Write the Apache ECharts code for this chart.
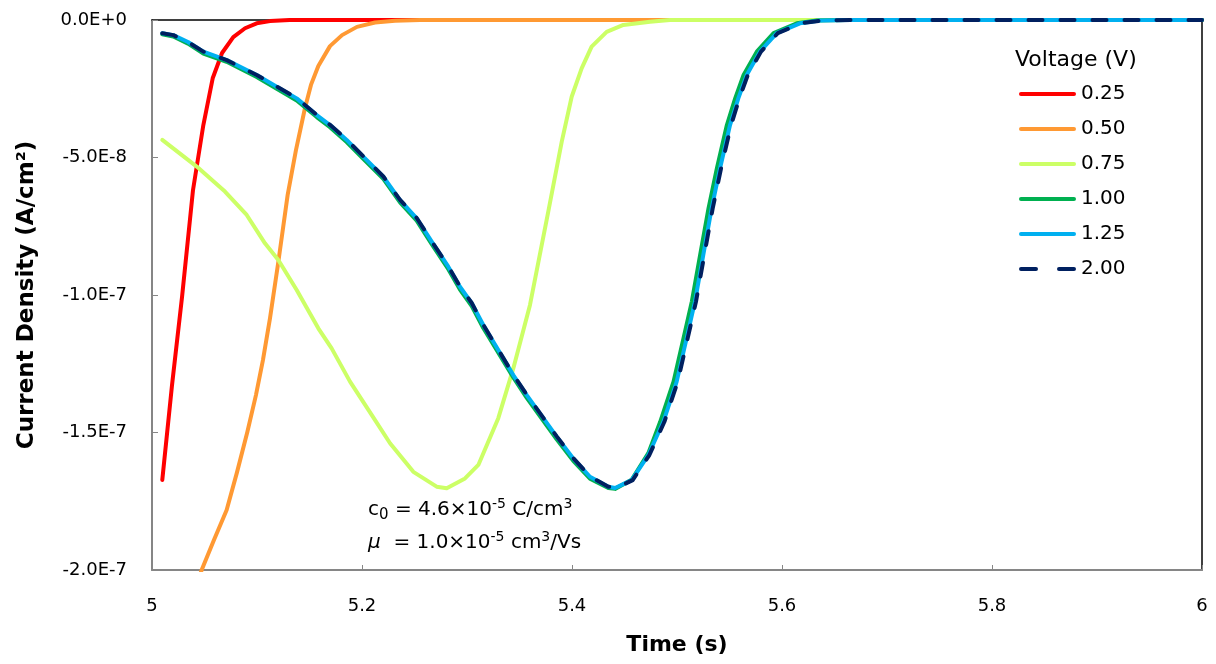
<!DOCTYPE html>
<html>
<head>
<meta charset="utf-8">
<script src="https://cdn.jsdelivr.net/npm/echarts@6/dist/echarts.min.js"></script>
<style>
html,body{margin:0;padding:0;background:#fff;}
#chart{width:1216px;height:664px;}
</style>
</head>
<body>
<div id="chart"></div>
<script>
// Time (s), current density (A/cm^2)
const seriesNames = ['0.25', '0.50', '0.75', '1.00', '1.25', '2.00'];
const seriesColors = ['#FF0000', '#FF9933', '#CCFF66', '#00B050', '#00B0F0', '#002060'];

const v025 = [[5.0098,-16.73e-8],[5.019,-13.3e-8],[5.0286,-10.07e-8],[5.039,-6.2e-8],[5.0489,-3.82e-8],[5.0578,-2.12e-8],[5.0667,-1.2e-8],[5.0774,-0.62e-8],[5.0886,-0.3e-8],[5.0997,-0.12e-8],[5.1124,-0.04e-8],[5.131,0],[5.2,0],[5.3,0],[5.4,0],[5.5,0],[5.6,0],[5.7,0],[5.8,0],[5.9,0],[6.0,0]];

const v050 = [[5.04,-20.8e-8],[5.0473,-20.0e-8],[5.059,-18.91e-8],[5.0711,-17.82e-8],[5.081,-16.44e-8],[5.0908,-14.98e-8],[5.099,-13.64e-8],[5.1057,-12.36e-8],[5.1124,-10.84e-8],[5.1203,-8.8e-8],[5.1292,-6.36e-8],[5.1371,-4.73e-8],[5.1457,-3.2e-8],[5.1514,-2.36e-8],[5.1584,-1.67e-8],[5.1695,-0.95e-8],[5.181,-0.55e-8],[5.1952,-0.25e-8],[5.2124,-0.09e-8],[5.2314,-0.03e-8],[5.2552,0],[5.3,0],[5.4,0],[5.5,0],[5.6,0],[5.7,0],[5.8,0],[5.9,0],[6.0,0]];

const v075 = [[5.0098,-4.36e-8],[5.0426,-5.33e-8],[5.0695,-6.24e-8],[5.0902,-7.09e-8],[5.1076,-8.12e-8],[5.1203,-8.73e-8],[5.1378,-9.82e-8],[5.1584,-11.21e-8],[5.1711,-11.94e-8],[5.1886,-13.15e-8],[5.2092,-14.36e-8],[5.2267,-15.39e-8],[5.2489,-16.43e-8],[5.2711,-16.97e-8],[5.2807,-17.03e-8],[5.2981,-16.67e-8],[5.3108,-16.18e-8],[5.3298,-14.48e-8],[5.3441,-12.67e-8],[5.36,-10.36e-8],[5.3774,-6.97e-8],[5.3902,-4.43e-8],[5.3997,-2.79e-8],[5.4092,-1.76e-8],[5.4187,-0.97e-8],[5.433,-0.43e-8],[5.4489,-0.18e-8],[5.4743,-0.06e-8],[5.4933,0],[5.6,0],[5.7,0],[5.8,0],[5.9,0],[6.0,0]];

const v100 = [[5.0098,-0.52e-8],[5.0203,-0.6e-8],[5.0343,-0.86e-8],[5.0489,-1.22e-8],[5.0711,-1.52e-8],[5.0997,-2.07e-8],[5.1188,-2.5e-8],[5.1378,-2.93e-8],[5.1569,-3.53e-8],[5.1695,-3.9e-8],[5.1854,-4.44e-8],[5.2012,-5.05e-8],[5.2203,-5.78e-8],[5.2362,-6.63e-8],[5.2521,-7.3e-8],[5.2664,-8.15e-8],[5.2822,-9.06e-8],[5.2933,-9.8e-8],[5.3045,-10.4e-8],[5.3155,-11.2e-8],[5.3298,-12.1e-8],[5.3441,-13.0e-8],[5.3569,-13.74e-8],[5.3727,-14.58e-8],[5.3854,-15.25e-8],[5.4012,-16.03e-8],[5.4171,-16.68e-8],[5.4346,-17.02e-8],[5.441,-17.05e-8],[5.4568,-16.72e-8],[5.4727,-15.75e-8],[5.484,-14.61e-8],[5.4967,-13.15e-8],[5.5062,-11.57e-8],[5.5141,-10.24e-8],[5.522,-8.55e-8],[5.53,-6.85e-8],[5.538,-5.39e-8],[5.5475,-3.82e-8],[5.5554,-2.85e-8],[5.5634,-2.0e-8],[5.576,-1.15e-8],[5.592,-0.48e-8],[5.6141,-0.12e-8],[5.6332,-0.02e-8],[5.66,0],[5.7,0],[5.8,0],[5.9,0],[6.0,0]];

const v125 = [[5.0098,-0.48e-8],[5.0203,-0.55e-8],[5.0343,-0.8e-8],[5.0489,-1.15e-8],[5.0711,-1.46e-8],[5.0997,-2.0e-8],[5.1188,-2.43e-8],[5.1378,-2.85e-8],[5.1569,-3.46e-8],[5.1695,-3.82e-8],[5.1854,-4.36e-8],[5.2012,-4.97e-8],[5.2203,-5.7e-8],[5.2362,-6.55e-8],[5.2521,-7.21e-8],[5.2664,-8.06e-8],[5.2822,-8.97e-8],[5.2933,-9.7e-8],[5.3045,-10.3e-8],[5.3155,-11.09e-8],[5.3298,-12.0e-8],[5.3441,-12.91e-8],[5.3569,-13.64e-8],[5.3727,-14.48e-8],[5.3854,-15.15e-8],[5.4012,-15.94e-8],[5.4171,-16.61e-8],[5.4346,-16.97e-8],[5.441,-17.02e-8],[5.4568,-16.73e-8],[5.4727,-15.82e-8],[5.487,-14.61e-8],[5.4997,-13.15e-8],[5.5092,-11.57e-8],[5.5171,-10.24e-8],[5.525,-8.55e-8],[5.533,-6.85e-8],[5.541,-5.39e-8],[5.5505,-3.82e-8],[5.5584,-2.85e-8],[5.5664,-2.0e-8],[5.579,-1.15e-8],[5.595,-0.48e-8],[5.6171,-0.12e-8],[5.6362,-0.02e-8],[5.665,0],[5.7,0],[5.8,0],[5.9,0],[6.0,0]];

const v200 = [[5.0098,-0.48e-8],[5.0203,-0.55e-8],[5.0343,-0.8e-8],[5.0489,-1.15e-8],[5.0711,-1.46e-8],[5.0997,-2.0e-8],[5.1188,-2.42e-8],[5.1378,-2.84e-8],[5.1569,-3.45e-8],[5.1695,-3.81e-8],[5.1854,-4.35e-8],[5.2012,-4.96e-8],[5.2203,-5.69e-8],[5.2362,-6.54e-8],[5.2521,-7.2e-8],[5.2664,-8.05e-8],[5.2822,-8.96e-8],[5.2933,-9.69e-8],[5.3045,-10.29e-8],[5.3155,-11.08e-8],[5.3298,-11.99e-8],[5.3441,-12.9e-8],[5.3569,-13.63e-8],[5.3727,-14.47e-8],[5.3854,-15.14e-8],[5.4012,-15.93e-8],[5.4171,-16.6e-8],[5.4346,-16.97e-8],[5.442,-17.02e-8],[5.4578,-16.73e-8],[5.4737,-15.82e-8],[5.488,-14.61e-8],[5.5007,-13.15e-8],[5.5102,-11.57e-8],[5.5181,-10.24e-8],[5.526,-8.55e-8],[5.534,-6.85e-8],[5.542,-5.39e-8],[5.5515,-3.82e-8],[5.5594,-2.85e-8],[5.5674,-2.0e-8],[5.58,-1.15e-8],[5.596,-0.48e-8],[5.6181,-0.12e-8],[5.6372,-0.02e-8],[5.666,0],[5.7,0],[5.8,0],[5.9,0],[6.0,0]];

const xTicks = [5, 5.2, 5.4, 5.6, 5.8, 6];
const yTicks = [-2.0e-7, -1.5e-7, -1.0e-7, -5.0e-8, 0];
const yTickLabels = ['-2.0E-7', '-1.5E-7', '-1.0E-7', '-5.0E-8', '0.0E+0'];

const allData = [v025, v050, v075, v100, v125, v200];
const FONT = 'DejaVu Sans';

function yFmt(v) {
  let best = 0, bd = Infinity;
  yTicks.forEach((t, i) => { const d = Math.abs(t - v); if (d < bd) { bd = d; best = i; } });
  return yTickLabels[best];
}

const solidIcon = 'path://M2,0H55A2,2,0,0,1,55,4H2A2,2,0,0,1,2,0Z';
const dashIcon = 'path://M2,0H17A2,2,0,0,1,17,4H2A2,2,0,0,1,2,0Z M40,0H55A2,2,0,0,1,55,4H40A2,2,0,0,1,40,0Z';

const series = allData.map((d, i) => ({
  name: seriesNames[i],
  type: 'line',
  data: d,
  symbol: 'none',
  showSymbol: false,
  smooth: false,
  xAxisIndex: 0,
  yAxisIndex: 0,
  lineStyle: {
    color: seriesColors[i],
    width: 4,
    type: i === 5 ? [14, 18] : 'solid',
    cap: 'round',
    join: 'round'
  },
  itemStyle: { color: seriesColors[i] },
  z: 2 + i
}));

const chart = echarts.init(document.getElementById('chart'), null, { renderer: 'canvas' });
chart.setOption({
  animation: false,
  backgroundColor: '#ffffff',
  textStyle: { fontFamily: FONT },
  grid: { left: 152, right: 14, top: 20, bottom: 94, containLabel: false },
  legend: {
    data: seriesNames.map((n, i) => ({ name: n, icon: i === 5 ? dashIcon : solidIcon })),
    orient: 'vertical',
    left: 1014,
    top: 79,
    padding: 5,
    itemWidth: 57,
    itemHeight: 4,
    itemGap: 15,
    symbolKeepAspect: false,
    textStyle: { fontFamily: FONT, fontSize: 20, color: '#000' }
  },
  xAxis: [{
    type: 'value',
    min: xTicks[0],
    max: xTicks[xTicks.length - 1],
    interval: 0.2,
    position: 'bottom',
    name: 'Time (s)',
    nameLocation: 'middle',
    nameGap: 64,
    nameTextStyle: { fontFamily: FONT, fontSize: 22, fontWeight: 'bold', color: '#000' },
    axisLine: { show: true, onZero: false, lineStyle: { color: '#868686', width: 2 } },
    axisTick: { show: true, inside: true, length: 5, lineStyle: { color: '#868686', width: 1 } },
    axisLabel: { margin: 27, fontFamily: FONT, fontSize: 18, color: '#000' },
    splitLine: { show: false }
  }, {
    type: 'value',
    min: xTicks[0],
    max: xTicks[xTicks.length - 1],
    position: 'top',
    axisLine: { show: true, onZero: false, lineStyle: { color: '#000', width: 1.5 } },
    axisTick: { show: false },
    axisLabel: { show: false },
    splitLine: { show: false }
  }],
  yAxis: [{
    type: 'value',
    min: yTicks[0],
    max: yTicks[yTicks.length - 1],
    interval: 5e-8,
    position: 'left',
    name: 'Current Density (A/cm²)',
    nameLocation: 'middle',
    nameGap: 113,
    nameRotate: 90,
    nameTextStyle: { fontFamily: FONT, fontSize: 23, fontWeight: 'bold', color: '#000' },
    axisLine: { show: true, onZero: false, lineStyle: { color: '#868686', width: 2 } },
    axisTick: { show: true, inside: true, length: 6, lineStyle: { color: '#868686', width: 1 } },
    axisLabel: { margin: 25, fontFamily: FONT, fontSize: 18, color: '#000', formatter: yFmt },
    splitLine: { show: false }
  }, {
    type: 'value',
    min: yTicks[0],
    max: yTicks[yTicks.length - 1],
    position: 'right',
    axisLine: { show: true, onZero: false, lineStyle: { color: '#000', width: 1.5 } },
    axisTick: { show: false },
    axisLabel: { show: false },
    splitLine: { show: false }
  }],
  graphic: [{
    type: 'text',
    left: 1015,
    top: 49,
    style: { text: 'Voltage (V)', fontFamily: FONT, fontSize: 22, fill: '#000' }
  }, {
    type: 'text',
    left: 368,
    top: 497,
    style: {
      text: '{n|c}{sub|0}{n| = 4.6×10}{sup|-5}{n| C/cm}{sup|3}',
      fontFamily: FONT, fontSize: 20, fill: '#000',
      rich: {
        n: { fontFamily: FONT, fontSize: 20, lineHeight: 26, verticalAlign: 'middle', fill: '#000' },
        sub: { fontFamily: FONT, fontSize: 15, lineHeight: 14, verticalAlign: 'bottom', fill: '#000' },
        sup: { fontFamily: FONT, fontSize: 14, lineHeight: 14, verticalAlign: 'top', fill: '#000' }
      }
    }
  }, {
    type: 'text',
    left: 368,
    top: 530,
    style: {
      text: '{it|μ}{n|  = 1.0×10}{sup|-5}{n| cm}{sup|3}{n|/Vs}',
      fontFamily: FONT, fontSize: 20, fill: '#000',
      rich: {
        it: { fontFamily: FONT, fontSize: 20, fontStyle: 'italic', lineHeight: 26, verticalAlign: 'middle', fill: '#000' },
        n: { fontFamily: FONT, fontSize: 20, lineHeight: 26, verticalAlign: 'middle', fill: '#000' },
        sup: { fontFamily: FONT, fontSize: 14, lineHeight: 14, verticalAlign: 'top', fill: '#000' }
      }
    }
  }],
  series: series
});
</script>
</body>
</html>
